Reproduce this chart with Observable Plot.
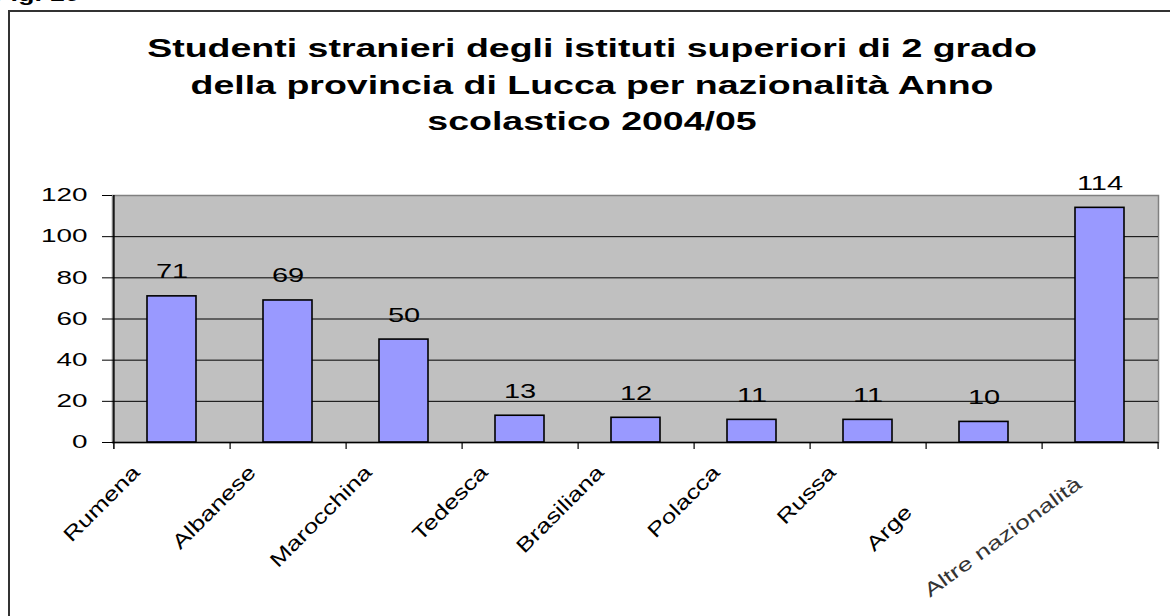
<!DOCTYPE html>
<html><head><meta charset="utf-8">
<script src="https://cdn.jsdelivr.net/npm/d3@7"></script>
<script src="https://cdn.jsdelivr.net/npm/@observablehq/plot@0.6"></script>
<style>
body{margin:0;background:#fff;font-family:"Liberation Sans",Arial,sans-serif;}
#wrap{position:relative;width:1170px;height:616px;overflow:hidden;background:#fff;}
#border{position:absolute;left:8px;top:10px;width:1300px;height:700px;border-left:2px solid #333;border-top:2px solid #333;}
#fig{position:absolute;left:-6px;top:-15px;font-weight:bold;font-size:18px;line-height:20px;transform:scaleX(1.5);transform-origin:0 0;white-space:nowrap;}
#title{position:absolute;left:0;top:30px;width:1184px;text-align:center;font-weight:bold;font-size:25px;line-height:36.5px;transform:scaleX(1.5);transform-origin:592px 0;white-space:nowrap;}
#chart{position:absolute;left:0;top:0;}
</style></head>
<body><div id="wrap"><div id="border"></div><div id="chart"></div><div id="fig"></div><div id="title"></div></div>
<script>
const categories = ["Rumena","Albanese","Marocchina","Tedesca","Brasiliana","Polacca","Russa","Argentina","Altre nazionalità"];
const values = [71,69,50,13,12,11,11,10,114];
const yTicks = [0,20,40,60,80,100,120];
const gridTicks = [20,40,60,80,100];
const titleLines = ["Studenti stranieri degli istituti superiori di 2 grado","della provincia di Lucca per nazionalità Anno","scolastico 2004/05"];
const figLabel = "Fig. 10";

document.getElementById("fig").textContent = figLabel;
const titleEl = document.getElementById("title");
titleLines.forEach((t,i)=>{ if(i) titleEl.appendChild(document.createElement("br")); titleEl.appendChild(document.createTextNode(t)); });

const W = 1170, H = 616, ML = 112, MR = 12, MT = 195, MB = 174;
const step = (W - ML - MR) / categories.length;
const data = categories.map((c,i)=>({cat:c, val:values[i]}));
const main = categories.slice(0, categories.length - 1);
const last = categories.slice(categories.length - 1);

const chart = Plot.plot({
  width: W, height: H,
  marginLeft: ML, marginRight: MR, marginTop: MT, marginBottom: MB,
  style: {background: "transparent", fontFamily: '"Liberation Sans", Arial, sans-serif', color: "#000"},
  x: {domain: categories, paddingInner: 0.58, paddingOuter: 0.29, axis: null},
  y: {domain: [0, 120], axis: null, label: null},
  marks: [
    Plot.frame({fill: "#c0c0c0", stroke: "#808080", strokeWidth: 1.5}),
    Plot.gridY(gridTicks, {stroke: "#000", strokeOpacity: 1, strokeWidth: 1}),
    Plot.barY(data, {x: "cat", y: "val", fill: "#9999ff", stroke: "#000", strokeWidth: 1.6}),
    Plot.ruleY([0], {stroke: "#000", strokeWidth: 1.5}),
    Plot.ruleX([categories[0]], {x: d => d, dx: -step/2, y1: -3.4, y2: 120, stroke: "#000", strokeWidth: 1.5}),
    Plot.ruleX(categories, {x: d => d, dx: step/2, y1: 0, y2: -3.4, stroke: "#000", strokeWidth: 1.2}),
    Plot.axisY(yTicks, {tickSize: 10, tickPadding: 15, fontSize: 18, stroke: "#000", label: null}),
    Plot.text(data, {x: "cat", y: "val", text: d => String(d.val), dy: -18, lineAnchor: "bottom", fontSize: 20, fill: "#000"}),
    Plot.text(main, {x: d => d, frameAnchor: "bottom", dx: -31, dy: 31, rotate: -45, textAnchor: "end", fontSize: 20, fill: "#000"}),
    Plot.text(last, {x: d => d, frameAnchor: "bottom", dx: -17, dy: 44, rotate: -36, textAnchor: "end", fontSize: 19, fill: "#333"})
  ]
});
document.getElementById("chart").appendChild(chart);

function stretch(sel, s){
  sel.each(function(){
    const t = this.getAttribute("transform") || "";
    this.setAttribute("transform", t + ` scale(${s},1)`);
  });
}
const svg = d3.select(chart);
const textGroups = svg.selectAll('g[aria-label="text"]').nodes();
stretch(svg.selectAll('g[aria-label="y-axis tick label"] text'), 1.55);
stretch(d3.select(textGroups[0]).selectAll("text"), 1.45);
stretch(d3.select(textGroups[1]).selectAll("text"), 1.3);
stretch(d3.select(textGroups[2]).selectAll("text"), 1.4);
// the Argentina label is partly hidden in the reference: keep only its visible start
d3.select(textGroups[1]).selectAll("text").each(function(){
  if (this.textContent === "Argentina") {
    this.textContent = "Arge";
    d3.select(this).append("tspan").attr("fill-opacity", 0).text("ntina");
  }
});
</script>
</body></html>
